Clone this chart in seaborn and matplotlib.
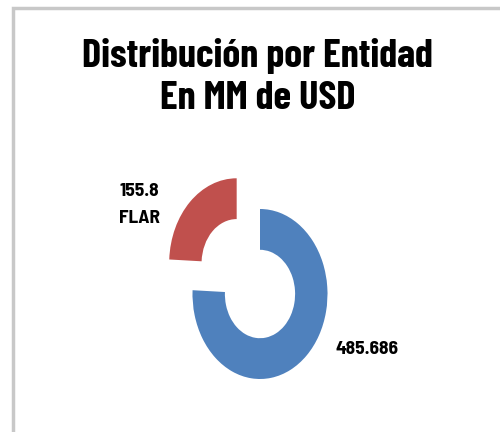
import matplotlib
matplotlib.use("Agg")
import matplotlib.pyplot as plt
import seaborn as sns
from matplotlib.patches import Rectangle

# datos
entidades = ["Otros", "FLAR"]
valores = [485.686, 155.8]
etiquetas = ["485.686", "155.8\nFLAR"]
colores = ["#4F81BD", "#C0504D"]
titulo = "Distribución por Entidad\nEn MM de USD"

sns.set_theme(style="white")
plt.rcParams["font.family"] = ["Barlow Condensed", "DejaVu Sans"]

fig = plt.figure(figsize=(5, 4.32), dpi=100)
fig.patch.set_facecolor("white")

# marco gris del grafico (recortado a la derecha y abajo)
fig.patches.append(Rectangle((12.5 / 500, -0.1), 1.2, 1 - 8 / 432 + 0.1,
                             transform=fig.transFigure, fill=False,
                             edgecolor="#c8c8c8", linewidth=2.5))

ax = fig.add_axes([0, 0, 1, 1])
ax.pie(valores, colors=colores, startangle=90, counterclock=False,
       explode=[0, 0.5], radius=1,
       wedgeprops=dict(width=0.48, linewidth=0))
ax.set_aspect("auto")
# escala x: 67.5 px por unidad, y: 85 px por unidad, centro en (260, 294)
sx, sy = 67.5, 85.0
ax.set_xlim(-260 / sx, 240 / sx)
ax.set_ylim(-(432 - 294) / sy, 294 / sy)
ax.axis("off")

lbl = dict(fontsize=14, fontweight="bold", color="black",
           family=["Barlow Semi Condensed", "DejaVu Sans"])
fig.text(0.279, 1 - 205 / 432, etiquetas[1], ha="center", va="center",
         linespacing=1.75, **lbl)
fig.text(0.733, 1 - 350 / 432, etiquetas[0], ha="center", va="center", **lbl)

fig.text(0.515, 1 - 77 / 432, titulo, ha="center", va="center",
         fontsize=29, fontweight="bold", linespacing=1.28, color="black")

fig.savefig("out.png", dpi=100)
